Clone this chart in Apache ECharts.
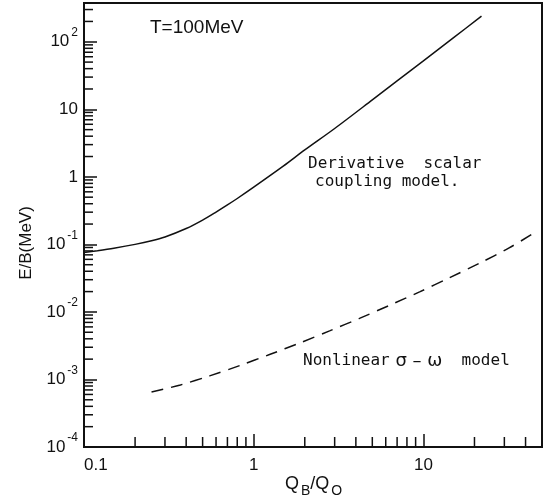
<!DOCTYPE html>
<html>
<head>
<meta charset="utf-8">
<script src="https://cdn.jsdelivr.net/npm/echarts@6/dist/echarts.min.js"></script>
<style>
html, body { margin: 0; padding: 0; background: #fff; }
#chart { width: 545px; height: 504px; }
</style>
</head>
<body>
<div id="chart"></div>
<script>
// 曲线数据
const derivX = [0.1, 0.12, 0.15, 0.2, 0.25, 0.3, 0.4, 0.5, 0.6, 0.7, 0.8, 1, 1.5, 2, 3, 5, 7, 10, 15, 22];
const derivY = [0.076, 0.0808, 0.0879, 0.1, 0.113, 0.1287, 0.1716, 0.229, 0.301, 0.384, 0.478, 0.703, 1.45, 2.5, 5.2, 13.8, 26.4, 52, 114, 240];
const sigmaX = [0.25, 0.37, 0.55, 0.83, 1.24, 1.87, 2.8, 4.2, 6.3, 9.5, 14.2, 21.3, 32, 46];
const sigmaY = [0.00065, 0.00083, 0.00113, 0.00161, 0.00234, 0.00347, 0.00524, 0.00802, 0.0125, 0.0198, 0.0319, 0.0523, 0.0887, 0.153];

// 坐标轴刻度
const xMajorTicks = [0.1, 1, 10];
const xTickLabels = ['0.1', '1', '10'];
const yMajorTicks = [1e-4, 1e-3, 1e-2, 1e-1, 1, 10, 100];
const yTickLabels = ['{b|10}{s|-4}', '{b|10}{s|-3}', '{b|10}{s|-2}', '{b|10}{s|-1}', '{b|1}', '{b|10}', '{b|10}{s|2}'];
const xMinorTicks = [0.2, 0.3, 0.4, 0.5, 0.6, 0.7, 0.8, 0.9, 2, 3, 4, 5, 6, 7, 8, 9, 20, 30, 40];
const minorSteps = [2, 3, 4, 5, 6, 7, 8, 9];
const yDecades = [1e-4, 1e-3, 1e-2, 1e-1, 1, 10];
const yExtraMinor = [200, 300];

const X_MIN = 0.1, X_MAX = 50, Y_MIN = 1e-4, Y_MAX = 375;
const INK = '#111';

const yMinorTicks = [];
yDecades.forEach(d => minorSteps.forEach(m => yMinorTicks.push(+(d * m).toPrecision(3))));
yExtraMinor.forEach(v => yMinorTicks.push(v));

function findTick(list, v) {
    return list.findIndex(t => Math.abs(Math.log10(t) - Math.log10(v)) < 1e-6);
}

const chart = echarts.init(document.getElementById('chart'));

const option = {
    animation: false,
    backgroundColor: '#fff',
    grid: {
        left: 84, right: 2, top: 3, bottom: 57,
        show: true, borderColor: INK, borderWidth: 2, backgroundColor: 'transparent'
    },
    xAxis: {
        type: 'log',
        logBase: 10,
        min: X_MIN,
        max: X_MAX,
        axisLine: { lineStyle: { color: INK, width: 2 } },
        axisTick: { inside: true, length: 13, lineStyle: { color: INK, width: 1.5 } },
        axisLabel: {
            margin: 10,
            color: INK,
            fontSize: 17,
            fontFamily: 'Liberation Sans',
            alignMinLabel: 'left',
            formatter: v => {
                const i = findTick(xMajorTicks, v);
                return i < 0 ? '' : xTickLabels[i];
            }
        },
        splitLine: { show: false }
    },
    yAxis: {
        type: 'log',
        logBase: 10,
        min: Y_MIN,
        max: Y_MAX,
        axisLine: { lineStyle: { color: INK, width: 2 } },
        axisTick: { inside: true, length: 13, lineStyle: { color: INK, width: 1.5 } },
        axisLabel: {
            margin: 6,
            color: INK,
            formatter: v => {
                const i = findTick(yMajorTicks, v);
                return i < 0 ? '' : yTickLabels[i];
            },
            rich: {
                b: { fontSize: 17, lineHeight: 30, fontFamily: 'Liberation Sans', color: INK },
                s: { fontSize: 12, lineHeight: 12, padding: [0, 0, 0, 2], verticalAlign: 'top', fontFamily: 'Liberation Sans', color: INK }
            }
        },
        splitLine: { show: false }
    },
    series: [
        {
            name: 'Derivative scalar coupling model.',
            type: 'line',
            data: derivX.map((x, i) => [x, derivY[i]]),
            showSymbol: false,
            smooth: 0.3,
            lineStyle: { color: INK, width: 1.5 }
        },
        {
            name: 'Nonlinear sigma-omega model',
            type: 'line',
            data: sigmaX.map((x, i) => [x, sigmaY[i]]),
            showSymbol: false,
            smooth: 0.3,
            lineStyle: { color: INK, width: 1.5, type: [12, 8] }
        },
        {
            // x 轴次刻度
            type: 'custom',
            silent: true,
            clip: false,
            data: xMinorTicks.map(v => [v, Y_MIN]),
            renderItem: (params, api) => {
                const p = api.coord([api.value(0), api.value(1)]);
                return {
                    type: 'line',
                    shape: { x1: p[0], y1: p[1], x2: p[0], y2: p[1] - 10 },
                    style: { stroke: INK, lineWidth: 1.5 }
                };
            }
        },
        {
            // y 轴次刻度
            type: 'custom',
            silent: true,
            clip: false,
            data: yMinorTicks.map(v => [X_MIN, v]),
            renderItem: (params, api) => {
                const p = api.coord([api.value(0), api.value(1)]);
                return {
                    type: 'line',
                    shape: { x1: p[0], y1: p[1], x2: p[0] + 9, y2: p[1] },
                    style: { stroke: INK, lineWidth: 1.5 }
                };
            }
        }
    ],
    graphic: [
        {
            type: 'text', x: 150, y: 28,
            style: { text: 'T=100MeV', fill: INK, font: '19px "Liberation Sans"', align: 'left', verticalAlign: 'middle' }
        },
        {
            type: 'text', x: 308, y: 164,
            style: { text: 'Derivative  scalar', fill: INK, font: '16px "DejaVu Sans Mono"', align: 'left', verticalAlign: 'middle' }
        },
        {
            type: 'text', x: 315, y: 182,
            style: { text: 'coupling model.', fill: INK, font: '16px "DejaVu Sans Mono"', align: 'left', verticalAlign: 'middle' }
        },
        {
            type: 'text', x: 303, y: 361,
            style: {
                text: '{t|Nonlinear}{g| σ – ω}{t|  model}',
                align: 'left', verticalAlign: 'middle',
                rich: {
                    t: { fontSize: 16, lineHeight: 20, fontFamily: 'DejaVu Sans Mono', fill: INK },
                    g: { fontSize: 18, lineHeight: 20, fontFamily: 'DejaVu Sans', fill: INK }
                }
            }
        },
        {
            type: 'text', x: 26, y: 243, rotation: Math.PI / 2,
            style: { text: 'E/B(MeV)', fill: INK, font: '17px "Liberation Sans"', align: 'center', verticalAlign: 'middle' }
        },
        {
            type: 'text', x: 285, y: 475,
            style: {
                text: '{q|Q}{sub|B}{q|/Q}{sub|O}',
                align: 'left', verticalAlign: 'top',
                rich: {
                    q: { fontSize: 18, lineHeight: 18, verticalAlign: 'top', fontFamily: 'Liberation Sans', fill: INK },
                    sub: { fontSize: 14, lineHeight: 14, padding: [9, 0, 0, 2], verticalAlign: 'top', fontFamily: 'Liberation Sans', fill: INK }
                }
            }
        }
    ]
};
chart.setOption(option);
</script>
</body>
</html>
